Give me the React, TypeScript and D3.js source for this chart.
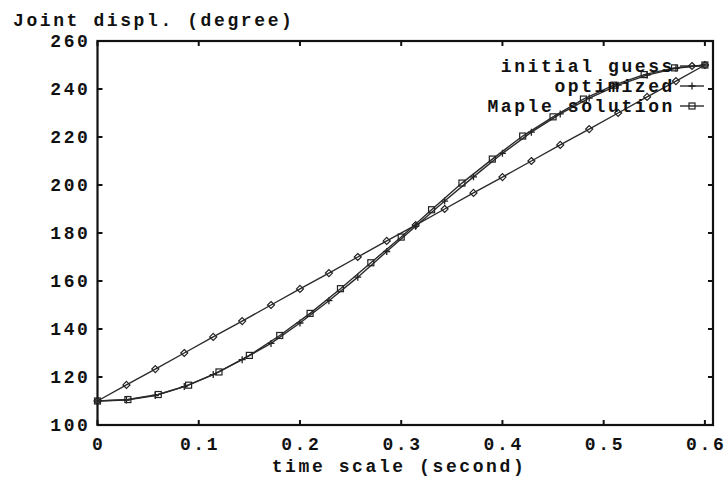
import React, { useEffect, useRef } from 'react';
import * as d3 from 'd3';

// time samples (second)
const guessTimes = [0, 0.0286, 0.0571, 0.0857, 0.1143, 0.1429, 0.1714, 0.2, 0.2286, 0.2571, 0.2857,
  0.3143, 0.3429, 0.3714, 0.4, 0.4286, 0.4571, 0.4857, 0.5143, 0.5429, 0.5714, 0.6];
const mapleTimes = [0, 0.03, 0.06, 0.09, 0.12, 0.15, 0.18, 0.21, 0.24, 0.27, 0.3,
  0.33, 0.36, 0.39, 0.42, 0.45, 0.48, 0.51, 0.54, 0.57, 0.6];

// joint displacement (degree)
const initialGuess = [110, 116.7, 123.3, 130, 136.7, 143.3, 150, 156.7, 163.3, 170, 176.7,
  183.3, 190, 196.7, 203.3, 210, 216.7, 223.3, 230, 236.7, 243.3, 250];
const optimized = [110, 110.4, 112.3, 116, 121, 127.2, 134, 142.5, 151.8, 161.6, 172.3,
  182.8, 193.3, 203.4, 213.2, 222, 229.6, 236.2, 241.6, 245.8, 248.6, 250];
const maple = [110, 110.6, 112.7, 116.6, 122.1, 129, 137.3, 146.5, 156.8, 167.6, 178.3,
  189.7, 200.8, 210.8, 220.4, 228.4, 235.8, 241.6, 246, 248.8, 250];

const xTicks = [0, 0.1, 0.2, 0.3, 0.4, 0.5, 0.6];
const yTicks = [100, 120, 140, 160, 180, 200, 220, 240, 260];
const legendNames = ['initial guess', 'optimized', 'Maple solution'];

const W = 725;
const H = 482;
const FONT = '"Liberation Mono", "DejaVu Sans Mono", monospace';

const App: React.FC = () => {
  const svgRef = useRef<SVGSVGElement>(null);

  useEffect(() => {
    if (!svgRef.current) return;
    const svg = d3.select(svgRef.current);
    svg.selectAll('*').remove();

    const left = 97.5, right = 713, top = 41, bottom = 425;
    const x = d3.scaleLinear().domain([0, 0.608]).range([left, right]);
    const y = d3.scaleLinear().domain([100, 260]).range([bottom, top]);

    svg.append('rect').attr('width', W).attr('height', H).attr('fill', '#fff');

    const txt = (sel: any) => sel
      .attr('font-family', FONT)
      .attr('font-weight', 'bold')
      .attr('font-size', 18)
      .attr('letter-spacing', 2.6)
      .attr('fill', '#111');

    // ticks (inward, mirrored)
    const tk = svg.append('g').attr('stroke', '#111').attr('stroke-width', 2);
    xTicks.forEach(v => {
      tk.append('line').attr('x1', x(v)).attr('x2', x(v)).attr('y1', bottom).attr('y2', bottom - 5);
      tk.append('line').attr('x1', x(v)).attr('x2', x(v)).attr('y1', top).attr('y2', top + 5);
    });
    yTicks.forEach(v => {
      tk.append('line').attr('x1', left).attr('x2', left + 5).attr('y1', y(v)).attr('y2', y(v));
      tk.append('line').attr('x1', right).attr('x2', right - 5).attr('y1', y(v)).attr('y2', y(v));
    });

    svg.append('rect')
      .attr('x', left).attr('y', top)
      .attr('width', right - left).attr('height', bottom - top)
      .attr('fill', 'none').attr('stroke', '#111').attr('stroke-width', 2.2);

    // tick labels
    svg.append('g').selectAll('text').data(xTicks).join('text')
      .call(txt)
      .attr('x', d => x(d) + 1.3)
      .attr('y', 450)
      .attr('text-anchor', 'middle')
      .text(d => String(d));
    svg.append('g').selectAll('text').data(yTicks).join('text')
      .call(txt)
      .attr('x', 90.5)
      .attr('y', d => y(d) + 6)
      .attr('text-anchor', 'end')
      .text(d => String(d));

    svg.append('text').call(txt)
      .attr('x', 13).attr('y', 26)
      .text('Joint displ. (degree)');
    svg.append('text').call(txt)
      .attr('x', 399).attr('y', 472)
      .attr('text-anchor', 'middle')
      .text('time scale (second)');

    // markers
    const diamond = (g: any, cx: number, cy: number) =>
      g.append('path').attr('d', `M${cx},${cy - 3.5}L${cx + 3.5},${cy}L${cx},${cy + 3.5}L${cx - 3.5},${cy}Z`)
        .attr('fill', 'none').attr('stroke', '#222').attr('stroke-width', 1.2);
    const plus = (g: any, cx: number, cy: number) =>
      g.append('path').attr('d', `M${cx - 3.5},${cy}H${cx + 3.5}M${cx},${cy - 3.5}V${cy + 3.5}`)
        .attr('fill', 'none').attr('stroke', '#222').attr('stroke-width', 1.3);
    const box = (g: any, cx: number, cy: number) =>
      g.append('rect').attr('x', cx - 3).attr('y', cy - 3).attr('width', 6).attr('height', 6)
        .attr('fill', 'none').attr('stroke', '#222').attr('stroke-width', 1.2);

    const series = [
      { times: guessTimes, values: initialGuess, mark: diamond },
      { times: guessTimes, values: optimized, mark: plus },
      { times: mapleTimes, values: maple, mark: box },
    ];

    const line = d3.line<[number, number]>().x(d => x(d[0])).y(d => y(d[1]));

    series.forEach(s => {
      const pts = s.times.map((t, i) => [t, s.values[i]] as [number, number]);
      const g = svg.append('g');
      g.append('path').attr('d', line(pts) as string)
        .attr('fill', 'none').attr('stroke', '#2a2a2a').attr('stroke-width', 1.4);
      pts.forEach(p => s.mark(g, x(p[0]), y(p[1])));
    });

    // legend
    legendNames.forEach((name, i) => {
      const ly = 66 + i * 20;
      svg.append('text').call(txt)
        .attr('x', 675).attr('y', ly + 6)
        .attr('text-anchor', 'end')
        .text(name);
      const g = svg.append('g');
      g.append('line').attr('x1', 680).attr('x2', 704).attr('y1', ly).attr('y2', ly)
        .attr('stroke', '#2a2a2a').attr('stroke-width', 1.4);
      series[i].mark(g, 692, ly);
    });
  }, []);

  return (
    <svg
      ref={svgRef}
      width={W}
      height={H}
      style={{ position: 'absolute', left: 0, top: 0 }}
    />
  );
};

export default App;
